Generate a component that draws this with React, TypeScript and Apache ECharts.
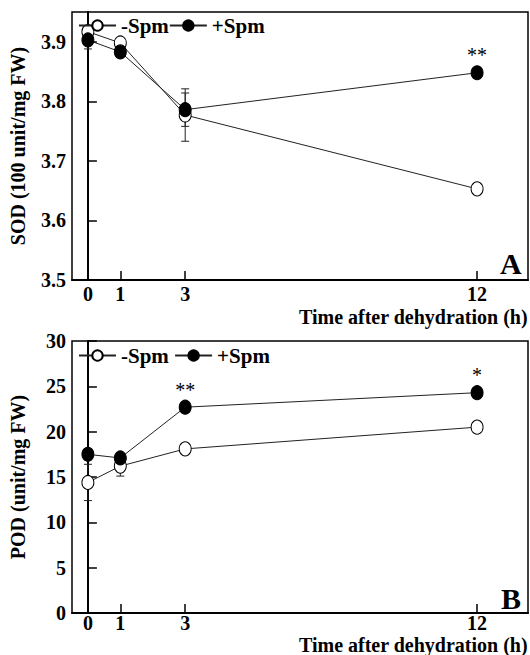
import React, { useEffect, useRef } from "react";
import * as echarts from "echarts";

const hours = [0, 1, 3, 12];
const tickHours = [0, 1, 3, 12];

const sodMinus = [3.917, 3.898, 3.777, 3.653];
const sodMinusErr = [0.008, 0.006, 0.044, 0.004];
const sodPlus = [3.903, 3.883, 3.786, 3.848];
const sodPlusErr = [0.015, 0.006, 0.028, 0.005];
const sodSig = ["", "", "", "**"];
const sodTicks = [3.5, 3.6, 3.7, 3.8, 3.9];

const podMinus = [14.4, 16.2, 18.1, 20.5];
const podMinusErr = [2.0, 1.1, 0.4, 0.6];
const podPlus = [17.5, 17.1, 22.7, 24.3];
const podPlusErr = [0.6, 0.4, 0.4, 0.5];
const podSig = ["", "", "**", "*"];
const podTicks = [0, 5, 10, 15, 20, 25, 30];

const FONT = "Liberation Serif";

function errData(vals: number[], errs: number[]) {
  return hours.map((h, i) => [h, vals[i] - errs[i], vals[i] + errs[i]]);
}

function errSeries(gridIdx: number, name: string, vals: number[], errs: number[]) {
  return {
    type: "custom",
    name: name + "_err",
    xAxisIndex: gridIdx,
    yAxisIndex: gridIdx,
    z: 1,
    data: errData(vals, errs),
    renderItem: (params: any, api: any) => {
      const x = api.value(0);
      const lo = api.coord([x, api.value(1)]);
      const hi = api.coord([x, api.value(2)]);
      const w = 4;
      const style = { stroke: "#222", lineWidth: 1 };
      return {
        type: "group",
        children: [
          { type: "line", shape: { x1: lo[0], y1: lo[1], x2: hi[0], y2: hi[1] }, style },
          { type: "line", shape: { x1: lo[0] - w, y1: lo[1], x2: lo[0] + w, y2: lo[1] }, style },
          { type: "line", shape: { x1: hi[0] - w, y1: hi[1], x2: hi[0] + w, y2: hi[1] }, style },
        ],
      };
    },
  };
}

function lineSeries(gridIdx: number, name: string, vals: number[], filled: boolean, sig?: string[]) {
  return {
    type: "line",
    name,
    xAxisIndex: gridIdx,
    yAxisIndex: gridIdx,
    z: 3,
    data: hours.map((h, i) => [h, vals[i]]),
    symbol: "circle",
    symbolSize: [12, 14],
    lineStyle: { color: "#222", width: 1 },
    itemStyle: { color: filled ? "#000" : "#fff", borderColor: "#000", borderWidth: 1 },
    label: sig
      ? {
          show: true,
          position: "top",
          distance: 0,
          formatter: (p: any) => sig[p.dataIndex],
          fontFamily: FONT,
          fontSize: 20,
          color: "#000",
        }
      : { show: false },
  };
}

function xAxis(gridIdx: number, margin: number) {
  return {
    type: "value",
    gridIndex: gridIdx,
    min: -0.49,
    max: 13.57,
    position: "bottom",
    splitLine: { show: false },
    axisLine: { show: true, lineStyle: { color: "#000", width: 2 } },
    axisTick: { show: true, inside: true, length: 9, customValues: tickHours, lineStyle: { color: "#000", width: 1.5 } },
    axisLabel: {
      customValues: tickHours,
      margin,
      color: "#000",
      fontFamily: FONT,
      fontWeight: "bold",
      fontSize: 20,
      lineHeight: 15,
    },
  };
}

function yAxis(gridIdx: number, name: string, min: number, max: number, ticks: number[], dec: number, gap: number) {
  return {
    type: "value",
    gridIndex: gridIdx,
    min,
    max,
    name,
    nameLocation: "middle",
    nameGap: gap,
    nameTextStyle: { color: "#000", fontFamily: FONT, fontWeight: "bold", fontSize: 20 },
    splitLine: { show: false },
    axisLine: { show: true, lineStyle: { color: "#000", width: 2 } },
    axisTick: { show: true, inside: true, length: 9, customValues: ticks, lineStyle: { color: "#000", width: 1.5 } },
    axisLabel: {
      customValues: ticks,
      formatter: (v: number) => v.toFixed(dec),
      margin: 6,
      color: "#000",
      fontFamily: FONT,
      fontWeight: "bold",
      fontSize: 20,
    },
  };
}

function legend(top: number) {
  return {
    left: 78,
    top,
    padding: 0,
    itemGap: 0,
    itemWidth: 37,
    itemHeight: 13,
    textStyle: { color: "#000", fontFamily: FONT, fontWeight: "bold", fontSize: 21 },
  };
}

export default function App() {
  const ref = useRef<HTMLDivElement>(null);
  useEffect(() => {
    if (!ref.current) return;
    const chart = echarts.init(ref.current, null, { renderer: "svg" });
    const titleStyle = { text: "Time after dehydration (h)", fontFamily: FONT, fontWeight: "bold", fontSize: 20, lineHeight: 17, fill: "#000" };
    const option: any = {
      animation: false,
      backgroundColor: "#fff",
      grid: [
        { left: 70, top: 12, width: 458, height: 268, show: true, borderColor: "#000", borderWidth: 1.5, backgroundColor: "transparent" },
        { left: 70, top: 341, width: 458, height: 272, show: true, borderColor: "#000", borderWidth: 1.5, backgroundColor: "transparent" },
      ],
      legend: [
        { ...legend(15), data: ["-Spm", "+Spm"].map((n) => ({ name: n })) },
        { ...legend(345), data: ["-Spm ", "+Spm "].map((n) => ({ name: n })) },
      ],
      xAxis: [xAxis(0, 6), xAxis(1, 2)],
      yAxis: [
        yAxis(0, "SOD (100 unit/mg FW)", 3.5, 3.95, sodTicks, 1, 44),
        yAxis(1, "POD (unit/mg FW)", 0, 30, podTicks, 0, 44),
      ],
      graphic: [
        { type: "text", right: 2, top: 307, style: titleStyle },
        { type: "text", right: 2, top: 635, style: titleStyle },
        { type: "text", left: 500, top: 248, style: { text: "A", fontFamily: FONT, fontWeight: "bold", fontSize: 30, fill: "#000" } },
        { type: "text", left: 501, top: 583, style: { text: "B", fontFamily: FONT, fontWeight: "bold", fontSize: 30, fill: "#000" } },
      ],
      series: [
        errSeries(0, "-Spm", sodMinus, sodMinusErr),
        errSeries(0, "+Spm", sodPlus, sodPlusErr),
        lineSeries(0, "-Spm", sodMinus, false),
        lineSeries(0, "+Spm", sodPlus, true, sodSig),
        errSeries(1, "-Spm ", podMinus, podMinusErr),
        errSeries(1, "+Spm ", podPlus, podPlusErr),
        lineSeries(1, "-Spm ", podMinus, false),
        lineSeries(1, "+Spm ", podPlus, true, podSig),
      ],
    };
    chart.setOption(option);
    return () => chart.dispose();
  }, []);
  return <div ref={ref} style={{ position: "fixed", left: 0, top: 0, width: 530, height: 655, background: "#fff" }} />;
}
